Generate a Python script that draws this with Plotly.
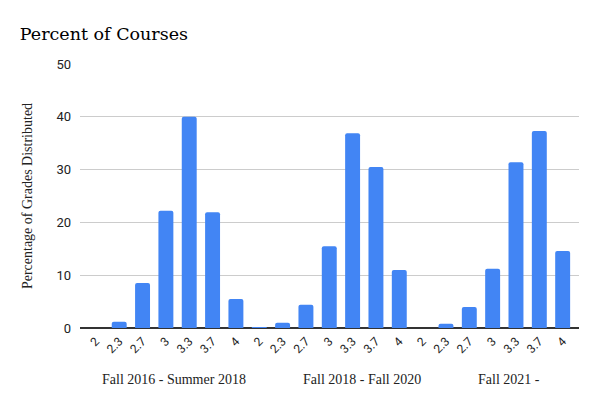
import plotly.graph_objects as go

# === Data ===
grades = ["2", "2.3", "2.7", "3", "3.3", "3.7", "4"]
periods = ["Fall 2016 - Summer 2018", "Fall 2018 - Fall 2020", "Fall 2021 -"]

pct_2016_2018 = [0, 1.2, 8.5, 22.2, 40.0, 21.9, 5.5]
pct_2018_2020 = [0.15, 1.0, 4.4, 15.5, 36.9, 30.5, 11.0]
pct_2021 = [0, 0.8, 4.0, 11.2, 31.4, 37.3, 14.6]

# === Flatten into one category axis ===
values = pct_2016_2018 + pct_2018_2020 + pct_2021
tick_text = grades * len(periods)
x_pos = list(range(len(values)))

serif = "Liberation Serif"
sans = "Roboto"

fig = go.Figure(go.Bar(
    x=x_pos,
    y=values,
    marker=dict(color="#4285F4", line=dict(width=0)),
    width=0.64,
))

# group labels below the rotated grade ticks
label_x = [3.35, 11.4, 17.7]
for name, lx in zip(periods, label_x):
    fig.add_annotation(
        text=name, x=lx, xref="x", y=-0.195, yref="paper",
        showarrow=False, font=dict(family=serif, size=14, color="#222"),
        xanchor="center", yanchor="middle",
    )

# page has an 8px body margin, so the figure is 8px smaller than the window
fig.update_layout(
    width=592, height=398,
    margin=dict(l=72, r=21, t=56, b=78),
    paper_bgcolor="white", plot_bgcolor="white",
    barcornerradius=2,
    showlegend=False,
    title=dict(text="Percent of Courses", x=0.02, xanchor="left",
               y=0.935, yanchor="middle",
               font=dict(family="DejaVu Serif", size=17.5, color="#000")),
    xaxis=dict(
        tickmode="array", tickvals=x_pos, ticktext=tick_text,
        tickangle=-45, range=[-0.68, 20.7],
        tickfont=dict(family=sans, size=12, color="#222"),
        showgrid=False, zeroline=False, showline=False, ticks="",
        ticklabelstandoff=3,
    ),
    yaxis=dict(
        range=[0, 50], dtick=10,
        tickfont=dict(family=sans, size=13, color="#222"),
        gridcolor="#cccccc", gridwidth=1,
        zeroline=True, zerolinecolor="#333333", zerolinewidth=1.5,
        showline=False, ticks="", ticklabelstandoff=8,
        title=dict(text="Percentage of Grades Distributed", standoff=20,
                   font=dict(family=serif, size=14, color="#222")),
    ),
)

fig.write_html("out.html")
